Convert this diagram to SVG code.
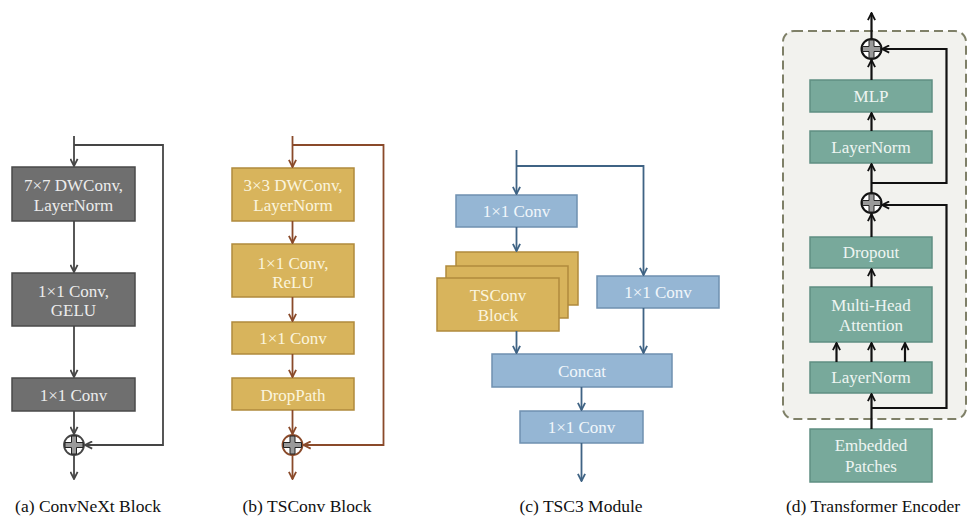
<svg xmlns="http://www.w3.org/2000/svg" width="968" height="516" viewBox="0 0 968 516">
  <defs>
    <marker id="ah-gray" viewBox="0 0 10 10" refX="9" refY="5" markerWidth="9" markerHeight="9" markerUnits="userSpaceOnUse" orient="auto">
      <path d="M1,1 L9,5 L1,9" fill="none" stroke="#454545" stroke-width="2"/>
    </marker>
    <marker id="ah-brown" viewBox="0 0 10 10" refX="9" refY="5" markerWidth="9" markerHeight="9" markerUnits="userSpaceOnUse" orient="auto">
      <path d="M1,1 L9,5 L1,9" fill="none" stroke="#8a4a2a" stroke-width="2"/>
    </marker>
    <marker id="ah-blue" viewBox="0 0 10 10" refX="9" refY="5" markerWidth="9" markerHeight="9" markerUnits="userSpaceOnUse" orient="auto">
      <path d="M1,1 L9,5 L1,9" fill="none" stroke="#3f6384" stroke-width="2"/>
    </marker>
    <marker id="ah-black" viewBox="0 0 10 10" refX="9" refY="5" markerWidth="9" markerHeight="9" markerUnits="userSpaceOnUse" orient="auto">
      <path d="M1,1 L9,5 L1,9" fill="none" stroke="#111111" stroke-width="2"/>
    </marker>
  </defs>
  <style>
    text { font-family: "Liberation Serif", "Times New Roman", serif; text-anchor: middle; dominant-baseline: central; }
    .lbl { font-size: 17px; }
    .cap { font-size: 17.5px; fill: #111111; }
    .gray rect { fill: #6f6f6f; stroke: #4a4a4a; stroke-width: 1.5; }
    .gray text { fill: #ececec; }
    .gold rect { fill: #d8b45c; stroke: #b08a3c; stroke-width: 1.5; }
    .gold text { fill: #fbf4de; }
    .blue rect { fill: #95b6d4; stroke: #6f90b0; stroke-width: 1.5; }
    .blue text { fill: #f1f6fb; }
    .teal rect { fill: #78a99b; stroke: #5f8f82; stroke-width: 1.5; }
    .teal text { fill: #eef5f2; }
    .c-gray { fill: none; stroke: #454545; stroke-width: 1.8; }
    .c-brown { fill: none; stroke: #8a4a2a; stroke-width: 1.8; }
    .c-blue { fill: none; stroke: #3f6384; stroke-width: 1.8; }
    .c-black { fill: none; stroke: #111111; stroke-width: 2.2; }
    .plus { fill: #9a9a9a; stroke: #222222; stroke-width: 1; }
  </style>

  <!-- (a) ConvNeXt Block -->
  <g id="a-dwconv" class="gray">
    <rect x="12" y="167" width="123" height="54"/>
    <text class="lbl" x="73.5" y="185">7×7 DWConv,</text>
    <text class="lbl" x="73.5" y="205">LayerNorm</text>
  </g>
  <g id="a-conv-gelu" class="gray">
    <rect x="12" y="273" width="123" height="53"/>
    <text class="lbl" x="73.5" y="291">1×1 Conv,</text>
    <text class="lbl" x="73.5" y="310">GELU</text>
  </g>
  <g id="a-conv" class="gray">
    <rect x="12" y="378" width="123" height="33"/>
    <text class="lbl" x="73.5" y="395">1×1 Conv</text>
  </g>
  <g id="a-add">
    <circle cx="74" cy="445" r="10" fill="#ffffff" stroke="#454545" stroke-width="1.8"/>
    <path class="plus" d="M71.5,436 h5 v6.5 h6.5 v5 h-6.5 v6.5 h-5 v-6.5 h-6.5 v-5 h6.5 z"/>
  </g>
  <text id="a-caption" class="cap" x="88" y="506">(a) ConvNeXt Block</text>

  <!-- (b) TSConv Block -->
  <g id="b-dwconv" class="gold">
    <rect x="232" y="168" width="122" height="53"/>
    <text class="lbl" x="293" y="185">3×3 DWConv,</text>
    <text class="lbl" x="293" y="205">LayerNorm</text>
  </g>
  <g id="b-conv-relu" class="gold">
    <rect x="232" y="244" width="122" height="53"/>
    <text class="lbl" x="293" y="263">1×1 Conv,</text>
    <text class="lbl" x="293" y="282">ReLU</text>
  </g>
  <g id="b-conv" class="gold">
    <rect x="232" y="322" width="122" height="32"/>
    <text class="lbl" x="293" y="338">1×1 Conv</text>
  </g>
  <g id="b-droppath" class="gold">
    <rect x="232" y="378" width="122" height="32"/>
    <text class="lbl" x="293" y="395">DropPath</text>
  </g>
  <g id="b-add">
    <circle cx="292.5" cy="445" r="10" fill="#ffffff" stroke="#8a4a2a" stroke-width="1.8"/>
    <path class="plus" d="M290,436 h5 v6.5 h6.5 v5 h-6.5 v6.5 h-5 v-6.5 h-6.5 v-5 h6.5 z"/>
  </g>
  <text id="b-caption" class="cap" x="307" y="506">(b) TSConv Block</text>

  <!-- (c) TSC3 Module -->
  <g id="c-conv-in" class="blue">
    <rect x="456" y="195" width="121" height="32"/>
    <text class="lbl" x="516.5" y="211">1×1 Conv</text>
  </g>
  <g id="c-tsconv" class="gold">
    <rect x="456" y="252" width="122" height="53"/>
    <rect x="446" y="266" width="122" height="52"/>
    <rect x="437" y="278" width="122" height="53"/>
    <text class="lbl" x="498" y="295">TSConv</text>
    <text class="lbl" x="498" y="315">Block</text>
  </g>
  <g id="c-conv-side" class="blue">
    <rect x="597" y="276" width="122" height="32"/>
    <text class="lbl" x="658" y="292">1×1 Conv</text>
  </g>
  <g id="c-concat" class="blue">
    <rect x="492" y="354" width="180" height="33"/>
    <text class="lbl" x="582" y="371">Concat</text>
  </g>
  <g id="c-conv-out" class="blue">
    <rect x="520" y="411" width="123" height="32"/>
    <text class="lbl" x="581.5" y="427">1×1 Conv</text>
  </g>
  <text id="c-caption" class="cap" x="581" y="506">(c) TSC3 Module</text>

  <!-- (d) Transformer Encoder -->
  <g id="d-encoder-frame">
    <rect x="783" y="31" width="183" height="388" rx="11" fill="#f2f2ee" stroke="#7f8068" stroke-width="2" stroke-dasharray="9,5"/>
  </g>
  <g id="d-add-top">
    <circle cx="871.5" cy="49" r="10" fill="#ffffff" stroke="#111111" stroke-width="2"/>
    <path class="plus" d="M869,40 h5 v6.5 h6.5 v5 h-6.5 v6.5 h-5 v-6.5 h-6.5 v-5 h6.5 z"/>
  </g>
  <g id="d-mlp" class="teal">
    <rect x="810" y="80" width="122" height="32"/>
    <text class="lbl" x="871" y="96">MLP</text>
  </g>
  <g id="d-norm2" class="teal">
    <rect x="810" y="131" width="122" height="32"/>
    <text class="lbl" x="871" y="147">LayerNorm</text>
  </g>
  <g id="d-add-mid">
    <circle cx="871.5" cy="203" r="10" fill="#ffffff" stroke="#111111" stroke-width="2"/>
    <path class="plus" d="M869,194 h5 v6.5 h6.5 v5 h-6.5 v6.5 h-5 v-6.5 h-6.5 v-5 h6.5 z"/>
  </g>
  <g id="d-dropout" class="teal">
    <rect x="810" y="237" width="122" height="31"/>
    <text class="lbl" x="871" y="252.5">Dropout</text>
  </g>
  <g id="d-mha" class="teal">
    <rect x="810" y="287" width="122" height="55"/>
    <text class="lbl" x="871" y="305">Multi-Head</text>
    <text class="lbl" x="871" y="325">Attention</text>
  </g>
  <g id="d-norm1" class="teal">
    <rect x="810" y="362" width="122" height="31"/>
    <text class="lbl" x="871" y="377.5">LayerNorm</text>
  </g>
  <g id="d-patches" class="teal">
    <rect x="810" y="429" width="122" height="53"/>
    <text class="lbl" x="871" y="445">Embedded</text>
    <text class="lbl" x="871" y="466">Patches</text>
  </g>
  <text id="d-caption" class="cap" x="873" y="506">(d) Transformer Encoder</text>

  <!-- connectors -->
  <g id="connectors">
    <!-- (a) -->
    <path class="c-gray" d="M74,136 V166" marker-end="url(#ah-gray)"/>
    <path class="c-gray" d="M74,145 H163 V445 H85" marker-end="url(#ah-gray)"/>
    <path class="c-gray" d="M74,221 V272" marker-end="url(#ah-gray)"/>
    <path class="c-gray" d="M74,326 V377" marker-end="url(#ah-gray)"/>
    <path class="c-gray" d="M74,411 V434" marker-end="url(#ah-gray)"/>
    <path class="c-gray" d="M74,455 V479" marker-end="url(#ah-gray)"/>

    <!-- (b) -->
    <path class="c-brown" d="M292.5,136 V167" marker-end="url(#ah-brown)"/>
    <path class="c-brown" d="M292.5,145 H383.5 V445 H303.5" marker-end="url(#ah-brown)"/>
    <path class="c-brown" d="M292.5,221 V243" marker-end="url(#ah-brown)"/>
    <path class="c-brown" d="M292.5,297 V321" marker-end="url(#ah-brown)"/>
    <path class="c-brown" d="M292.5,354 V377" marker-end="url(#ah-brown)"/>
    <path class="c-brown" d="M292.5,410 V434" marker-end="url(#ah-brown)"/>
    <path class="c-brown" d="M292.5,455 V479" marker-end="url(#ah-brown)"/>

    <!-- (c) -->
    <path class="c-blue" d="M516.5,150 V194" marker-end="url(#ah-blue)"/>
    <path class="c-blue" d="M516.5,166 H643.5 V275" marker-end="url(#ah-blue)"/>
    <path class="c-blue" d="M516.5,227 V251" marker-end="url(#ah-blue)"/>
    <path class="c-blue" d="M516.5,331 V353" marker-end="url(#ah-blue)"/>
    <path class="c-blue" d="M643.5,308 V353" marker-end="url(#ah-blue)"/>
    <path class="c-blue" d="M581.5,387 V410" marker-end="url(#ah-blue)"/>
    <path class="c-blue" d="M581.5,443 V481" marker-end="url(#ah-blue)"/>

    <!-- (d) -->
    <path class="c-black" d="M871.5,39 V13" marker-end="url(#ah-black)"/>
    <path class="c-black" d="M871.5,80 V60" marker-end="url(#ah-black)"/>
    <path class="c-black" d="M871.5,131 V113" marker-end="url(#ah-black)"/>
    <path class="c-black" d="M871.5,193 V164" marker-end="url(#ah-black)"/>
    <path class="c-black" d="M871.5,183 H946.5 V49 H882" marker-end="url(#ah-black)"/>
    <path class="c-black" d="M871.5,237 V214" marker-end="url(#ah-black)"/>
    <path class="c-black" d="M871.5,287 V269" marker-end="url(#ah-black)"/>
    <path class="c-black" d="M836.5,362 V343" marker-end="url(#ah-black)"/>
    <path class="c-black" d="M871.5,362 V343" marker-end="url(#ah-black)"/>
    <path class="c-black" d="M905,362 V343" marker-end="url(#ah-black)"/>
    <path class="c-black" d="M871.5,429 V394" marker-end="url(#ah-black)"/>
    <path class="c-black" d="M871.5,408 H946.5 V205 H882" marker-end="url(#ah-black)"/>
  </g>
</svg>
